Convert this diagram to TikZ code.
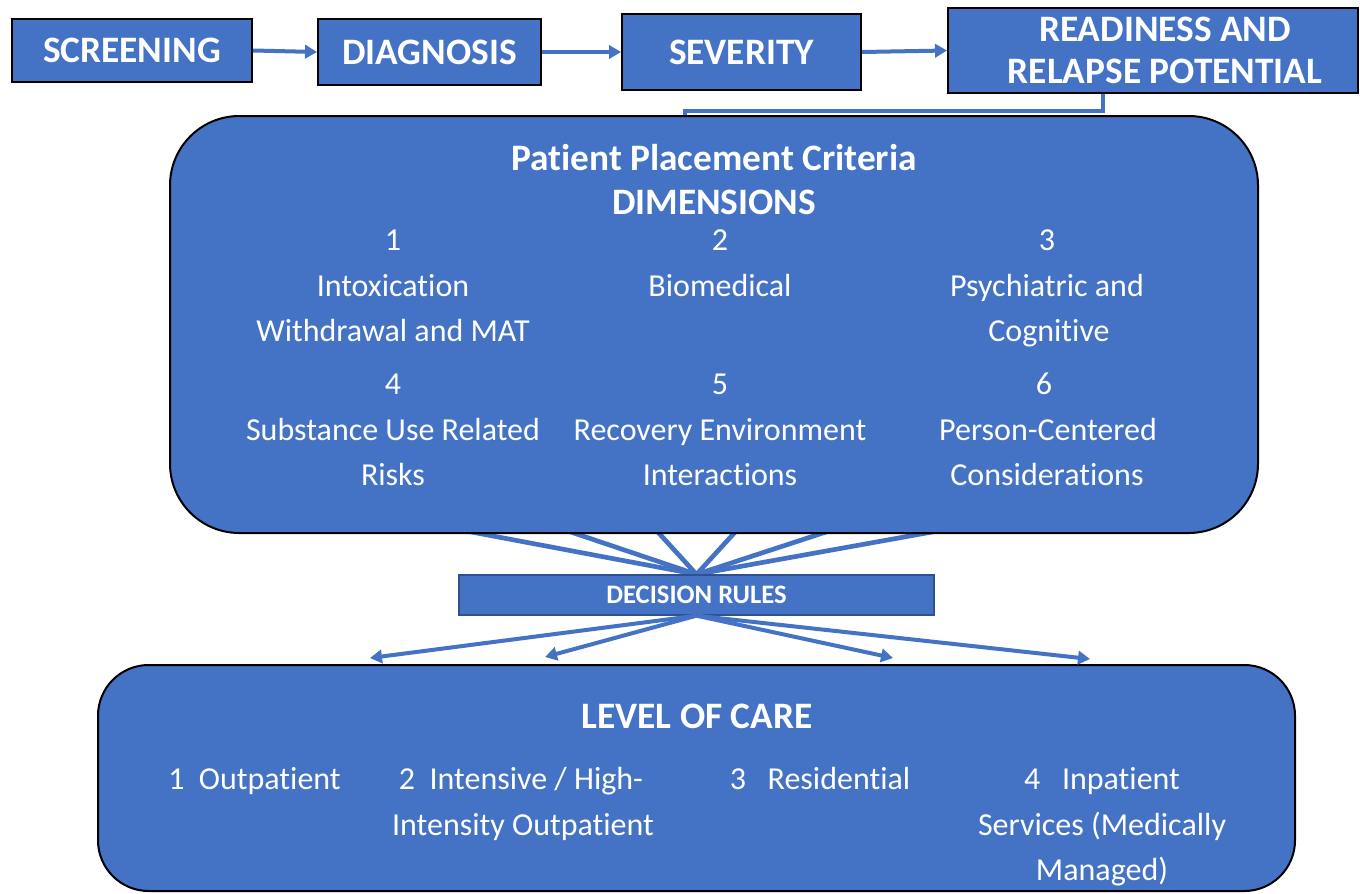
\documentclass[tikz,border=0pt]{standalone}
\usepackage{fontspec}
\setmainfont{Carlito}
\usetikzlibrary{arrows.meta,backgrounds,calc}
\definecolor{boxblue}{HTML}{4472C4}
\definecolor{edgeblue}{HTML}{2F528F}
\pgfdeclarelayer{paper}
\pgfsetlayers{paper,background,main}
\newcommand{\ti}{t\kern0pt i}
\begin{document}
\begin{tikzpicture}[x=0.75pt,y=-0.75pt,
  topbox/.style={draw=black, line width=1.5pt, fill=boxblue, text=white, font=\fontsize{28}{31.5}\selectfont\bfseries, align=center, inner sep=0pt},
  toptext/.style={text=white, font=\fontsize{28}{31.5}\selectfont\bfseries, align=center, inner sep=0pt},
  bigbox/.style={draw=black, line width=1.5pt, fill=boxblue, inner sep=0pt},
  conn/.style={draw=boxblue, line width=3pt},
  arr/.style={conn, -{Triangle[length=9pt,width=10pt]}},
  fan/.style={draw=boxblue, line width=3.5pt},
  btitle/.style={text=white, font=\fontsize{28}{32}\selectfont\bfseries, anchor=base, inner sep=0pt},
  btext/.style={text=white, font=\fontsize{24}{28}\selectfont, anchor=base, inner sep=0pt},
]
\begin{pgfonlayer}{paper}
\fill[white] (0,0) rectangle (1360,893);
\end{pgfonlayer}
\useasboundingbox (0,0) rectangle (1360,893);

% top row
\node[topbox, minimum width=180pt, minimum height=47.25pt] (screen) at (132,50.5) {SCREENING};
\node[topbox, minimum width=167.25pt, minimum height=49.5pt] (diag) at (429.5,52) {DIAGNOSIS};
\node[topbox, minimum width=179.25pt, minimum height=57pt] (sev) at (741.5,52) {SEVERITY};
\node[topbox, minimum width=307.5pt, minimum height=63.75pt] (ready) at (1153,50.5) {};
\node[toptext] (readyt) at (1165,50.5) {READINESS AND\\RELAPSE POTENTIAL};

\draw[arr] (screen.east) -- (diag.west);
\draw[arr] (diag.east) -- (sev.west);
\draw[arr] (sev.east) -- (ready.west);

% dimensions box
\node[bigbox, rounded corners=52pt, minimum width=816pt, minimum height=312.75pt] (dims) at (714,324.5) {};
\draw[conn] (1103,0 |- ready.south) |- (685,111) -- (685,0 |- dims.north);

\node[btitle] (ttl1) at (714,170) {Pa\ti ent Placement Criteria};
\node[btitle] (ttl2) at (714,214) {DIMENSIONS};

\node[btext] (n1) at (393,250) {1};
\node[btext] (d1a) at (393,296) {Intoxica\ti on};
\node[btext] (d1b) at (393,341) {Withdrawal and MAT};
\node[btext] (n2) at (720,250) {2};
\node[btext] (d2a) at (720,296) {Biomedical};
\node[btext] (n3) at (1047,250) {3};
\node[btext] (d3a) at (1047,296) {Psychiatric and};
\node[btext] (d3b) at (1049,341) {Cogni\ti ve};
\node[btext] (n4) at (393,394) {4};
\node[btext] (d4a) at (393,440) {Substance Use Related};
\node[btext] (d4b) at (393,485) {Risks};
\node[btext] (n5) at (720,394) {5};
\node[btext] (d5a) at (720,440) {Recovery Environment};
\node[btext] (d5b) at (720,485) {Interac\ti ons};
\node[btext] (n6) at (1044,394) {6};
\node[btext] (d6a) at (1048,440) {Person-Centered};
\node[btext] (d6b) at (1047,485) {Considera\ti ons};

% decision rules
\node[draw=edgeblue, line width=1pt, fill=boxblue, text=white, font=\fontsize{20}{24}\selectfont\bfseries, minimum width=356.25pt, minimum height=30pt, inner sep=0pt] (dec) at (696.5,595) {DECISION RULES};

\coordinate (f1) at (461,530);
\coordinate (f2) at (565,530);
\coordinate (f3) at (656,530);
\coordinate (f4) at (737,530);
\coordinate (f5) at (832,530);
\coordinate (f6) at (943,530);
\begin{scope}[on background layer]
\foreach \f in {f1,f2,f3,f4,f5,f6} \draw[fan] (\f) -- (dec.north);
\end{scope}

% level of care
\node[bigbox, rounded corners=38pt, minimum width=897.75pt, minimum height=169.5pt] (loc) at (696.5,778) {};
\node[btitle] (loct) at (697,728) {LEVEL OF CARE};
\node[btext] (l1) at (254.5,789) {1\ \ Outpa\ti ent};
\node[btext] (l2a) at (521,789) {2\ \ Intensive / High-};
\node[btext] (l2b) at (523,835) {Intensity Outpa\ti ent};
\node[btext] (l3) at (820,789) {3\ \ \ Residen\ti al};
\node[btext] (l4a) at (1102,789) {4\ \ \ Inpa\ti ent};
\node[btext] (l4b) at (1102,835) {Services (Medically};
\node[btext] (l4c) at (1102,880) {Managed)};

\coordinate (a1) at (370,658);
\coordinate (a2) at (545,657);
\coordinate (a3) at (893,658);
\coordinate (a4) at (1090,659);
\foreach \a in {a1,a2,a3,a4} \draw[arr] (dec.south) -- (\a);
\end{tikzpicture}
\end{document}
